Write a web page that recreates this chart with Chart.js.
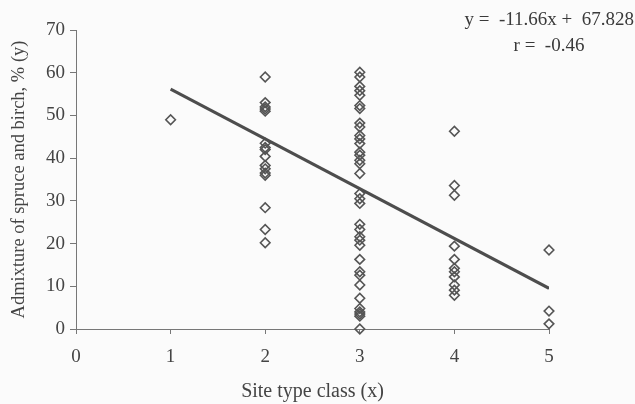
<!DOCTYPE html>
<html><head><meta charset="utf-8">
<script src="https://cdn.jsdelivr.net/npm/chart.js@4.4.0/dist/chart.umd.min.js"></script>
<style>html,body{margin:0;padding:0;background:#fbfbfb;}#wrap{width:635px;height:404px;position:relative;}</style>
</head><body><div id="wrap"><canvas id="c" width="635" height="404"></canvas></div>
<script>
const siteClass1 = [49];
const siteClass2 = [59, 53, 52, 51.5, 51, 43.5, 42.5, 42, 40.4, 38.3, 37.5, 36.5, 36, 28.4, 23.3, 20.2];
const siteClass3 = [0, 3, 3.5, 4, 4.8, 7.2, 10.3, 12.6, 13.4, 16.3, 19.6, 20.8, 21.6, 23.3, 24.5, 29.4, 30.5, 31.7, 36.4, 38.7, 39.5, 40.7, 41.4, 43.4, 44.5, 45.3, 47.3, 48.2, 51.6, 52.3, 54.7, 55.8, 56.8, 59, 60.1];
const siteClass4 = [46.3, 33.6, 31.3, 19.4, 16.3, 14.2, 13.4, 12.2, 10.3, 9.1, 7.9];
const siteClass5 = [18.5, 4.2, 1.2];
const slope = -11.66, intercept = 67.828, rValue = -0.46;
const lineX = [1, 5];
const xTicks = [0, 1, 2, 3, 4, 5];
const yTicks = [0, 10, 20, 30, 40, 50, 60, 70];

const pts = [];
[[1, siteClass1], [2, siteClass2], [3, siteClass3], [4, siteClass4], [5, siteClass5]].forEach(([x, arr]) => arr.forEach(v => pts.push({x: x, y: v})));
const linePts = lineX.map(x => ({x: x, y: slope * x + intercept}));

const FONT = "'Liberation Serif', 'DejaVu Serif', serif";
const ink = '#444';

const eqPlugin = {
  id: 'eq',
  afterDraw(chart) {
    const ctx = chart.ctx;
    ctx.save();
    ctx.fillStyle = '#3a3a3a';
    ctx.font = "19px " + FONT;
    ctx.textBaseline = 'middle';
    ctx.textAlign = 'right';
    ctx.fillText('y =  ' + slope.toFixed(2) + 'x +  ' + intercept.toFixed(3), 634, 20);
    ctx.textAlign = 'center';
    ctx.fillText('r =  ' + rValue.toFixed(2), 549, 46);
    ctx.restore();
  }
};

new Chart(document.getElementById('c'), {
  type: 'scatter',
  data: {
    datasets: [
      {
        type: 'line',
        data: linePts,
        borderColor: '#4d4d4d',
        borderWidth: 3,
        pointRadius: 0,
        fill: false,
        order: 0
      },
      {
        data: pts,
        clip: false,
        pointStyle: 'rectRot',
        pointRadius: 4.8,
        pointBorderWidth: 1.6,
        borderColor: '#555',
        backgroundColor: 'rgba(255,255,255,0)',
        pointBorderColor: '#555',
        pointBackgroundColor: 'rgba(255,255,255,0)',
        order: 1
      }
    ]
  },
  options: {
    responsive: false,
    animation: false,
    layout: {padding: {top: 30, right: 86, left: 0, bottom: 0}},
    plugins: {legend: {display: false}, tooltip: {enabled: false}},
    scales: {
      x: {
        type: 'linear', min: 0, max: 5,
        afterBuildTicks: s => { s.ticks = xTicks.map(v => ({value: v})); },
        afterFit: s => { s.height = 75; },
        border: {display: true, color: '#777', width: 1},
        grid: {display: true, drawOnChartArea: false, drawTicks: true, tickLength: 5, color: '#777', lineWidth: 1},
        ticks: {color: ink, padding: 12, font: {family: FONT, size: 19}},
        title: {display: true, text: 'Site type class (x)', color: ink, font: {family: FONT, size: 20}, padding: {top: 8, bottom: 0}}
      },
      y: {
        type: 'linear', min: 0, max: 70,
        afterBuildTicks: s => { s.ticks = yTicks.map(v => ({value: v})); },
        afterFit: s => { s.width = 76; },
        border: {display: true, color: '#777', width: 1},
        grid: {display: true, drawOnChartArea: false, drawTicks: true, tickLength: 6, color: '#777', lineWidth: 1},
        ticks: {color: ink, padding: 5, font: {family: FONT, size: 19}},
        title: {display: true, text: 'Admixture of spruce and birch, % (y)', color: ink, font: {family: FONT, size: 18.5}, padding: {top: 8, bottom: 4}}
      }
    }
  },
  plugins: [eqPlugin]
});
</script></body></html>
